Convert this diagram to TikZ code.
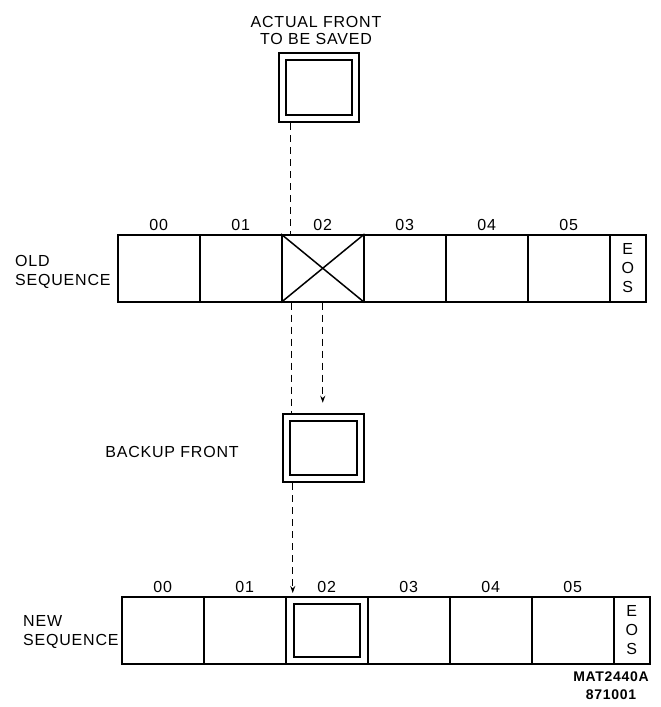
\documentclass[tikz,border=0pt]{standalone}
\usepackage{fontspec}
\setmainfont{Liberation Sans}[LetterSpace=5]
\usetikzlibrary{arrows.meta}
\usetikzlibrary{calc}

\tikzset{
  cell/.style={draw, line width=1.5pt, minimum width=82pt, minimum height=67pt, inner sep=0pt, anchor=north west},
  eoscell/.style={cell, minimum width=36pt, align=center, font=\fontsize{16}{19}\selectfont},
  front/.style={draw, double, double distance=5.5pt, line width=1.5pt, inner sep=0pt},
  tag/.style={font=\fontsize{16}{19}\selectfont, inner sep=0pt},
  flow/.style={dash pattern=on 7pt off 5pt, line width=0.9pt},
  arr/.style={flow, -{Stealth[length=7pt,width=5pt]}}
}

\begin{document}
\begin{tikzpicture}[x=1pt, y=-1pt]
    \useasboundingbox (0,0) rectangle (661,707);

    % front to be saved
    \node[tag, align=center, font=\fontsize{16}{17}\selectfont] (actualtxt) at (316,30) {ACTUAL FRONT\\TO BE SAVED};
    \node[front, minimum width=73pt, minimum height=62pt] (actual) at (319,87.5) {};

    % old sequence
    \foreach \i in {0,...,5} { \node[cell, label={[tag, label distance=3pt]above:0\i}] (old\i) at (117+82*\i,234) {}; }
    \node[eoscell] (oldeos) at (609,234) {E\\O\\S};
    \draw[line width=1.5pt] (old2.north west) -- (old2.south east) (old2.south west) -- (old2.north east);
    \node[tag, align=left, anchor=west] (oldtxt) at (15,272) {OLD\\SEQUENCE};

    % backup front
    \node[front, minimum width=74pt, minimum height=61pt] (backup) at (323.5,448) {};
    \node[tag] (backuptxt) at (172,452) {BACKUP FRONT};

    % new sequence
    \foreach \i in {0,...,5} { \node[cell, label={[tag, label distance=3pt]above:0\i}] (new\i) at (121+82*\i,596) {}; }
    \node[eoscell] (neweos) at (613,596) {E\\O\\S};
    \node[draw, line width=1.5pt, minimum width=66pt, minimum height=53pt, inner sep=0pt] (saved) at (new2.center) {};
    \node[tag, align=left, anchor=west] (newtxt) at (23,632) {NEW\\SEQUENCE};

    \node[font=\fontsize{14}{18}\selectfont\bfseries, align=center, inner sep=0pt] (code) at (611,686) {MAT2440A\\871001};

    % dashed moves
    \coordinate (d1) at ([xshift=9pt]old2.north west);
    \draw[flow] ($(d1 |- actual.south)+(0,4)$) -- (d1);
    \coordinate (d2) at ([xshift=10pt]old2.south west);
    \draw[flow] (d2) -- ($(d2 |- backup.north)-(0,4)$);
    \draw[arr] (old2.south) -- ($(old2.south |- backup.north)-(0,14)$);
    \coordinate (d3) at ([xshift=7pt]backup.south west);
    \draw[arr, shorten >=3pt] ($(d3)+(0,4)$) -- (d3 |- new2.north);
\end{tikzpicture}
\end{document}
